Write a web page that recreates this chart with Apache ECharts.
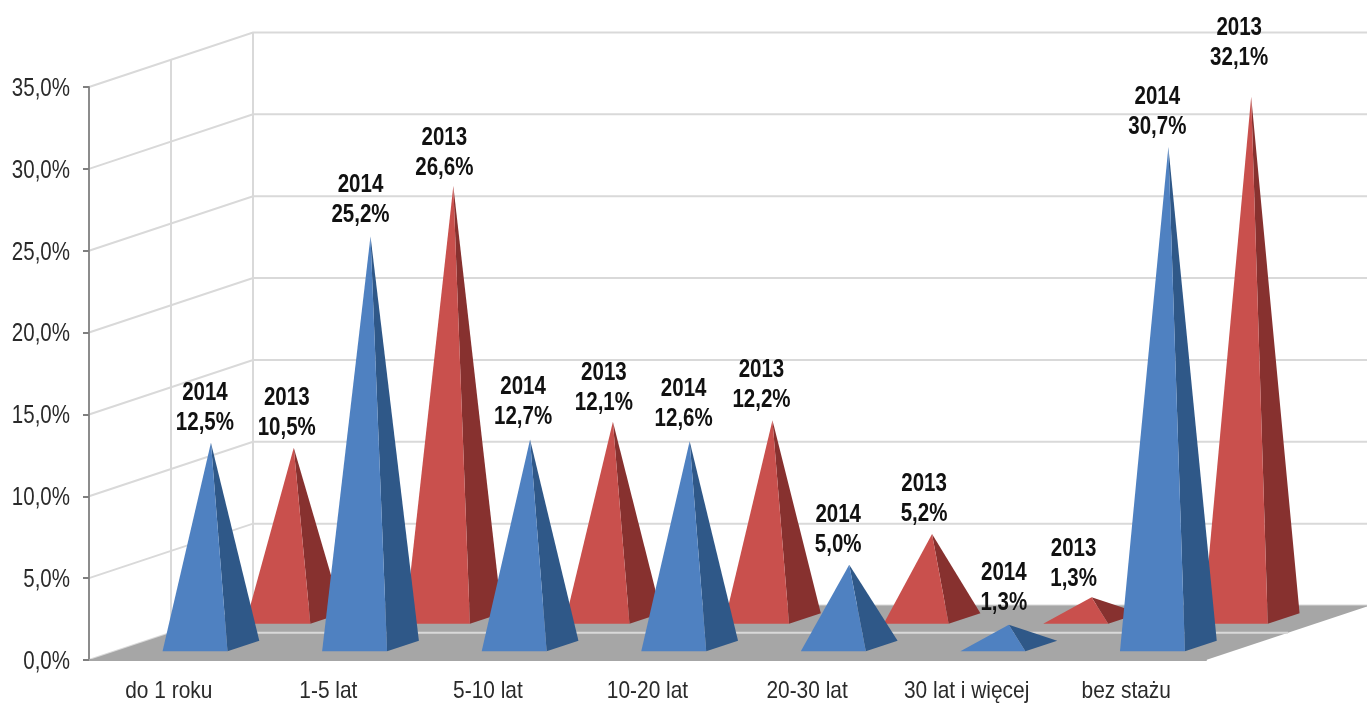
<!DOCTYPE html>
<html>

	<head>
		<meta charset="UTF-8">
		<title>Staż pracy</title>
		<style>
			html, body { margin: 0; padding: 0; background: #fff; }
			#chart { width: 1367px; height: 704px; }
		</style>
	</head>

	<body>
		<div id="chart"></div>

		<script src="https://cdn.jsdelivr.net/npm/echarts@6/dist/echarts.min.js"></script>
		<script>
			// dane
			var categories = ['do 1 roku', '1-5 lat', '5-10 lat', '10-20 lat', '20-30 lat', '30 lat i więcej', 'bez stażu'];
			var values2014 = [12.5, 25.2, 12.7, 12.6, 5.0, 1.3, 30.7];
			var values2013 = [10.5, 26.6, 12.1, 12.2, 5.2, 1.3, 32.1];
			var yTicks = [0, 5, 10, 15, 20, 25, 30, 35];

			// wyglad "3D": przesuniecie glebi wykresu w pikselach
			var DEPTH_X = 164;
			var DEPTH_Y = -54.5;
			var BASE_WIDTH = 0.407; // szerokosc podstawy jako czesc kategorii
			var BASE_DEPTH = 0.194;
			var APEX_SCALE = 0.993; // czubki sa lekko nizej niz wynika ze sciany
			var FONT = '"Liberation Sans", Arial, sans-serif';
			var NARROW = 0.82; // zwezenie tekstu, brak czcionki Arial Narrow

			var blue = {year: '2014', depth: 0.16, front: '#4f81c1', side: '#2f5888',
				labelDx: [-6, -10, -7, -6, -11, -5, -11], labelGap: [22, 23, 24, 24, 22, 24, 22]};
			var red = {year: '2013', depth: 0.665, front: '#c9504d', side: '#87312f',
				labelDx: [-7, -9, -9, -11, -8, -18, -12], labelGap: [22, 20, 21, 22, 22, 20, 41]};

			function fmt(v) {
				return v.toFixed(1).replace('.', ',') + '%';
			}

			function apexOf(api, look) {
				var base = api.coord([api.value(0), 0]);
				var top = api.coord([api.value(0), api.value(1)]);
				var d = look.depth + BASE_DEPTH / 2;
				return [base[0] + d * DEPTH_X, base[1] + (top[1] - base[1]) * APEX_SCALE + d * DEPTH_Y];
			}

			// ostroslup: przednia i prawa sciana
			function renderPyramid(look) {
				return function(params, api) {
					var base = api.coord([api.value(0), 0]);
					var halfW = api.size([1, 0])[0] * BASE_WIDTH / 2;
					var apex = apexOf(api, look);
					var fy = base[1] + look.depth * DEPTH_Y;
					var fx = base[0] + look.depth * DEPTH_X;
					var fl = [fx - halfW, fy];
					var fr = [fx + halfW, fy];
					var br = [fr[0] + BASE_DEPTH * DEPTH_X, fy + BASE_DEPTH * DEPTH_Y];
					return {
						type: 'group',
						children: [
							{type: 'polygon', shape: {points: [fr, br, apex]}, style: {fill: look.side}},
							{type: 'polygon', shape: {points: [fl, fr, apex]}, style: {fill: look.front}}
						]
					};
				};
			}

			function narrowText(x, y, text, align, size, weight, color, scale) {
				return {
					type: 'text',
					x: x,
					y: y,
					scaleX: scale || NARROW,
					style: {
						x: 0,
						y: 0,
						text: text,
						textAlign: align,
						textVerticalAlign: 'middle',
						fontFamily: FONT,
						fontWeight: weight,
						fontSize: size,
						lineHeight: 30,
						fill: color
					}
				};
			}

			function renderLabel(look) {
				return function(params, api) {
					var apex = apexOf(api, look);
					var i = api.value(0);
					return narrowText(apex[0] + look.labelDx[i], apex[1] - look.labelGap[i] - 13,
						look.year + '\n' + fmt(api.value(1)), 'center', 25, 'bold', '#111');
				};
			}

			// opisy osi
			function renderYLabel(params, api) {
				var p = api.coord([0, api.value(1)]);
				var half = api.size([1, 0])[0] / 2;
				return narrowText(p[0] - half - 19, p[1] + 2, fmt(api.value(1)), 'right', 25, 'normal', '#2a2a2a');
			}

			function renderXLabel(params, api) {
				var p = api.coord([api.value(0), 0]);
				return narrowText(p[0], p[1] + 31, categories[api.value(0)], 'center', 24, 'normal', '#2a2a2a', 0.87);
			}

			// podloga z jasna linia w polowie glebi
			function renderFloor(params, api) {
				var half = api.size([1, 0])[0] / 2;
				var a = api.coord([0, 0]);
				var b = api.coord([categories.length - 1, 0]);
				var l = a[0] - half;
				var r = b[0] + half;
				var y = a[1];
				return {
					type: 'group',
					children: [
						{type: 'polygon', shape: {points: [[l, y], [l + DEPTH_X, y + DEPTH_Y], [r + DEPTH_X, y + DEPTH_Y], [r, y]]},
							style: {fill: '#a6a6a6'}},
						{type: 'line', shape: {x1: l + DEPTH_X / 2, y1: y + DEPTH_Y / 2, x2: r + DEPTH_X / 2, y2: y + DEPTH_Y / 2},
							style: {stroke: '#d9d9d9', lineWidth: 2}}
					]
				};
			}

			// linie siatki na bocznej i tylnej scianie
			function renderWalls(params, api) {
				var half = api.size([1, 0])[0] / 2;
				var a = api.coord([0, api.value(1)]);
				var b = api.coord([categories.length - 1, api.value(1)]);
				var l = a[0] - half;
				var r = b[0] + half;
				var y = a[1];
				var line = {stroke: '#d9d9d9', lineWidth: 2, fill: null};
				var kids = [
					{type: 'polyline', shape: {points: [[l, y], [l + DEPTH_X, y + DEPTH_Y], [r + DEPTH_X, y + DEPTH_Y]]}, style: line}
				];
				if (api.value(1) === yTicks[yTicks.length - 1]) {
					var y0 = api.coord([0, 0])[1];
					kids.push({type: 'line', shape: {x1: l + DEPTH_X / 2, y1: y + DEPTH_Y / 2, x2: l + DEPTH_X / 2, y2: y0 + DEPTH_Y / 2}, style: line});
					kids.push({type: 'line', shape: {x1: l + DEPTH_X, y1: y + DEPTH_Y, x2: l + DEPTH_X, y2: y0 + DEPTH_Y}, style: line});
				}
				return {type: 'group', children: kids};
			}

			function toPoints(values) {
				return values.map(function(v, i) {
					return [i, v];
				});
			}

			function customSeries(renderItem, data, z) {
				return {
					type: 'custom',
					renderItem: renderItem,
					data: data,
					encode: {x: 0, y: 1},
					z: z,
					silent: true,
					animation: false
				};
			}

			var tickPoints = yTicks.map(function(t) {
				return [0, t];
			});
			var categoryPoints = categories.map(function(c, i) {
				return [i, 0];
			});

			var myChart = echarts.init(document.getElementById('chart'), null, {renderer: 'canvas'});

			var option = {
				backgroundColor: '#fff',
				animation: false,
				grid: {left: 89, top: 87, width: 1117, height: 573, outerBoundsMode: 'none'},
				xAxis: {
					type: 'category',
					data: categories,
					axisLine: {lineStyle: {color: '#a6a6a6', width: 2}},
					axisTick: {length: 8, lineStyle: {color: '#7f7f7f', width: 2}},
					axisLabel: {show: false},
					z: 5
				},
				yAxis: {
					type: 'value',
					min: 0,
					max: 35,
					interval: 5,
					splitLine: {show: false},
					axisLine: {show: true, lineStyle: {color: '#8c8c8c', width: 2}},
					axisTick: {show: true, length: 6, lineStyle: {color: '#7f7f7f', width: 2}},
					axisLabel: {show: false},
					z: 5
				},
				series: [
					customSeries(renderWalls, tickPoints, 1),
					customSeries(renderFloor, [[0, 0]], 2),
					customSeries(renderPyramid(red), toPoints(values2013), 3),
					customSeries(renderPyramid(blue), toPoints(values2014), 4),
					customSeries(renderLabel(red), toPoints(values2013), 6),
					customSeries(renderLabel(blue), toPoints(values2014), 6),
					customSeries(renderYLabel, tickPoints, 6),
					customSeries(renderXLabel, categoryPoints, 6)
				]
			};

			myChart.setOption(option);
		</script>
	</body>

</html>
